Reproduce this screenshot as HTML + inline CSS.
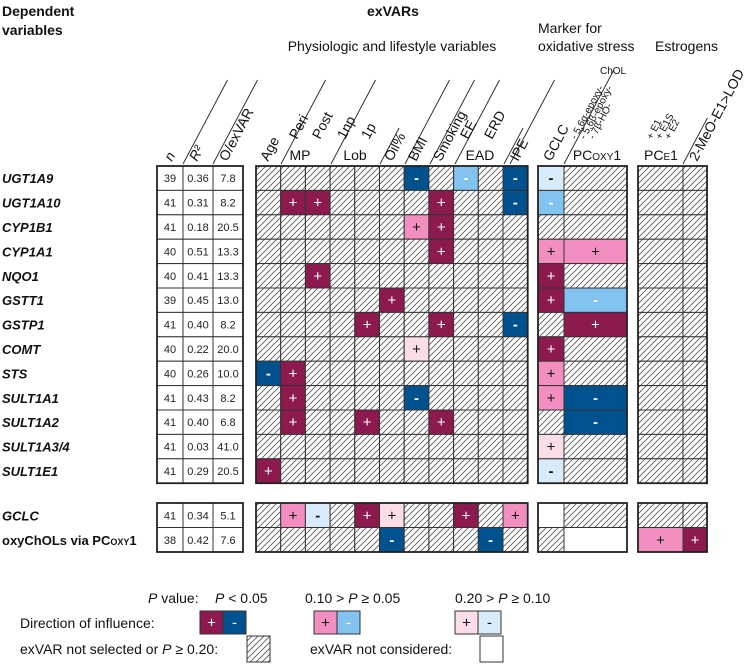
<!DOCTYPE html>
<html><head><meta charset="utf-8"><style>
body{margin:0;background:#fff;}
svg{display:block;font-family:"Liberation Sans",sans-serif;}
</style></head><body>
<svg id="fig" width="749" height="670" viewBox="0 0 749 670" xmlns="http://www.w3.org/2000/svg">
<defs>
<pattern id="hatch" patternUnits="userSpaceOnUse" x="0" y="0" width="6" height="6">
<rect width="6" height="6" fill="#fff"/>
<path d="M0,6 L6,0 M-1,1 L1,-1 M5,7 L7,5" stroke="#555" stroke-width="0.8" fill="none"/>
</pattern>
</defs>
<g fill="#111">
<text x="2" y="16" font-size="14" font-weight="bold">Dependent</text>
<text x="2" y="35" font-size="14" font-weight="bold">variables</text>
<text x="393" y="16" font-size="14" font-weight="bold" text-anchor="middle">exVARs</text>
<text x="392" y="51" font-size="14" text-anchor="middle">Physiologic and lifestyle variables</text>
<text x="538" y="33" font-size="14">Marker for</text>
<text x="538" y="51" font-size="14">oxidative stress</text>
<text x="655" y="51" font-size="14">Estrogens</text>
</g>
<g id="diag" stroke="#222" stroke-width="0.9"></g>
<g id="labels" fill="#111"></g>
<g id="grid"></g>
<g id="legend" fill="#111" font-size="14"></g>
</svg>
<script>
const rowNames=["UGT1A9","UGT1A10","CYP1B1","CYP1A1","NQO1","GSTT1","GSTP1","COMT","STS","SULT1A1","SULT1A2","SULT1A3/4","SULT1E1","GCLC","oxyChOLs"];
const nVals=["39","41","41","40","40","39","41","40","40","41","41","41","41","41","38"];
const r2Vals=["0.36","0.31","0.18","0.51","0.41","0.45","0.40","0.22","0.26","0.43","0.40","0.03","0.29","0.34","0.42"];
const oVals=["7.8","8.2","20.5","13.3","13.3","13.0","8.2","20.0","10.0","8.2","6.8","41.0","20.5","5.1","7.6"];
const mainCodes=["hhhhhhMhmhM","hPPhhhhPhhM","hhhhhhpPhhh","hhhhhhhPhhh","hhPhhhhhhhh","hhhhhPhhhhh","hhhhPhhPhhM","hhhhhhqhhhh","MPhhhhhhhhh","hPhhhhMhhhh","hPhhPhhPhhh","hhhhhhhhhhh","Phhhhhhhhhh","hpnhPqhhPhp","hhhhhMhhhMh"];
const gclcCodes=["n","m","h","p","P","P","h","P","p","p","h","q","n","w","h"];
const pcOxyCodes=["h","h","h","p","h","m","P","h","h","M","M","h","h","h","w"];
const pcE1Codes=["h","h","h","h","h","h","h","h","h","h","h","h","h","h","p"];
const meoCodes=["h","h","h","h","h","h","h","h","h","h","h","h","h","h","P"];

const NS="http://www.w3.org/2000/svg";
function mk(tag,attrs,parent,txt){const e=document.createElementNS(NS,tag);for(const k in attrs)e.setAttribute(k,attrs[k]);if(txt!=null)e.textContent=txt;parent.appendChild(e);return e;}
const fill={h:"url(#hatch)",w:"#fff",P:"#8c1a4f",M:"#00528f",p:"#f28fc0",m:"#82c3ef",q:"#fbdde9",n:"#d8ebfa"};
const sym={P:"+",M:"-",p:"+",m:"-",q:"+",n:"-"};
const symCol={P:"#fff",M:"#fff",p:"#111",m:"#fff",q:"#111",n:"#111"};
function rowTop(i){return i<13?166+i*24.4:503+(i-13)*24.5;}
function rowH(i){return i<13?24.4:24.5;}
const t1=[157,183,213,243];
const mainL=256,mainW=24.7;
const grid=document.getElementById('grid');
function cell(x,y,w,h,code,name){
  const r=mk('rect',{x:x,y:y,width:w,height:h,fill:fill[code],stroke:"#333","stroke-width":1},grid);
  
  
  if(sym[code]){const t=mk('text',{x:x+w/2,y:y+h/2+5,"text-anchor":"middle","font-size":15,fill:symCol[code],"font-weight":code==='M'||code==='m'||code==='n'?"bold":"normal"},grid,sym[code]);
    
    }
}
for(let i=0;i<rowNames.length;i++){
  const y=rowTop(i),h=rowH(i);
  let lbl;
  if(i===14){lbl=mk('text',{x:2,y:y+h/2+5,"font-size":13,"font-weight":"bold",fill:"#111"},grid);
    lbl.appendChild(document.createTextNode("oxyChOLs via PC"));
    mk('tspan',{"font-size":9},lbl,"OXY");lbl.appendChild(document.createTextNode("1"));}
  else lbl=mk('text',{x:2,y:y+h/2+5,"font-size":13,"font-weight":"bold","font-style":"italic",fill:"#111"},grid,rowNames[i]);
  
  
  const vals=[nVals[i],r2Vals[i],oVals[i]];
  for(let c=0;c<3;c++){
    const r=mk('rect',{x:t1[c],y:y,width:t1[c+1]-t1[c],height:h,fill:"#fff",stroke:"#333","stroke-width":1},grid);
    
    
    const t=mk('text',{x:(t1[c]+t1[c+1])/2,y:y+h/2+4,"text-anchor":"middle","font-size":11,fill:"#222"},grid,vals[c]);
    
    
  }
  for(let c=0;c<11;c++) cell(mainL+c*mainW,y,mainW,h,mainCodes[i][c],'exvar-cell');
  cell(538,y,26,h,gclcCodes[i],'gclc-cell');
  cell(564,y,63,h,pcOxyCodes[i],'pcoxy1-cell');
  cell(638,y,45,h,pcE1Codes[i],'pce1-cell');
  cell(683,y,24,h,meoCodes[i],'meo-e1-cell');
}
[[157,243],[256,mainL+11*mainW],[538,627],[638,707]].forEach(b=>{
  [[166,166+13*24.4],[503,552]].forEach(v=>{
    const r=mk('rect',{x:b[0],y:v[0],width:b[1]-b[0],height:v[1]-v[0],fill:"none",stroke:"#222","stroke-width":1.8},grid);
    
    
  });
});
const diag=document.getElementById('diag');
[[183,80],[213,80],[281,80],[331,80],[380,128],[405,80],[430,80],[455,80],[504,128],[510,80],[564,70],[683,118]].forEach(d=>{
  const x0=d[0],top=d[1],dy=164-top,dx=dy*0.53;
  const l=mk('line',{x1:x0,y1:164,x2:x0+dx,y2:top},diag);
  
  
});
const labels=document.getElementById('labels');
function rot(x,y,txt,fs,style,name){
  x+=5;
  const t=mk('text',{x:x,y:y,"font-size":fs,"font-style":style||"normal",transform:`rotate(-62 ${x} ${y})`},labels,txt);
  
  
  return t;}
function hz(x,y,txt,fs,name){const t=mk('text',{x:x,y:y,"font-size":fs,"text-anchor":"middle"},labels,txt);
  
  return t;}
rot(167,162,"n",14,"italic","col-n");
rot(192,162,"R²",14,"italic","col-r2");
rot(222,162,"O/exVAR",14,"normal","col-o-exvar");
rot(263,162,"Age",14,"normal","col-age");
rot(292,140,"Peri",14,"normal","col-peri");
rot(315,140,"Post",14,"normal","col-post");
hz(300,160,"MP",14,"group-mp");
rot(340,140,"1np",14,"normal","col-1np");
rot(364,140,"1p",14,"normal","col-1p");
hz(355,160,"Lob",14,"group-lob");
rot(387,162,"Oil%",14,"normal","col-oil");
rot(411,162,"BMI",14,"normal","col-bmi");
rot(436,162,"Smoking",14,"normal","col-smoking");
rot(463,140,"EE",14,"normal","col-ee");
rot(487,140,"ERD",14,"normal","col-erd");
hz(480,160,"EAD",14,"group-ead");
rot(513,162,"IPE",14,"normal","col-ipe");
rot(546,162,"GCLC",14,"normal","col-gclc");
rot(571,140,"- 5,6α-epoxy-",10,"normal","col-56a-epoxy");
rot(580,140,"- 5,6β-epoxy-",10,"normal","col-56b-epoxy");
rot(589,140,"- 7β-HO-",10,"normal","col-7b-ho");
mk('text',{x:600,y:74,"font-size":10},labels,"ChOL");
const pco=mk('text',{x:597,y:160,"font-size":14,"text-anchor":"middle"},labels);

pco.appendChild(document.createTextNode("PC"));mk('tspan',{"font-size":10},pco,"OXY");pco.appendChild(document.createTextNode("1"));
rot(647,140,"+ E1",10,"normal","col-e1");
rot(656,140,"+ E1S",10,"normal","col-e1s");
rot(665,140,"+ E2",10,"normal","col-e2");
const pce=mk('text',{x:661,y:160,"font-size":14,"text-anchor":"middle"},labels);

pce.appendChild(document.createTextNode("PC"));mk('tspan',{"font-size":10},pce,"E");pce.appendChild(document.createTextNode("1"));
rot(692,162,"2-MeO-E1>LOD",14,"normal","col-2meo-e1");
const lg=document.getElementById('legend');
function lt(x,y,parts,name,anchor){const t=mk('text',{x:x,y:y,"text-anchor":anchor||"start"},lg);
  parts.forEach(p=>{if(typeof p==='string')t.appendChild(document.createTextNode(p));else mk('tspan',{"font-style":"italic"},t,p.i);});
  
  }
lt(148,603,[{i:"P"}," value:"],'legend-p-title');
lt(215,603,[{i:"P"}," < 0.05"],'legend-p-005');
lt(305,603,["0.10 > ",{i:"P"}," ≥ 0.05"],'legend-p-010');
lt(455,603,["0.20 > ",{i:"P"}," ≥ 0.10"],'legend-p-020');
lt(20,628,["Direction of influence:"],'legend-direction-title');
lt(20,654,["exVAR not selected or ",{i:"P"}," ≥ 0.20:"],'legend-not-selected');
lt(310,654,["exVAR not considered:"],'legend-not-considered');
function lbox(x,y,w,h,code,name){
  const r=mk('rect',{x:x,y:y,width:w,height:h,fill:fill[code],stroke:"#333","stroke-width":1},lg);
  
  
  if(sym[code]){const t=mk('text',{x:x+w/2,y:y+h/2+5,"text-anchor":"middle","font-size":15,fill:symCol[code]},lg,sym[code]);
    
    }
}
lbox(200,611,23,23,'P','legend-dark-plus');lbox(223,611,23,23,'M','legend-dark-minus');
lbox(314,611,23,23,'p','legend-mid-plus');lbox(337,611,23,23,'m','legend-mid-minus');
lbox(455,611,23,23,'q','legend-light-plus');lbox(478,611,23,23,'n','legend-light-minus');
lbox(247,636,23,26,'h','legend-hatched');
lbox(480,636,23,26,'w','legend-white');
</script>
</body></html>
